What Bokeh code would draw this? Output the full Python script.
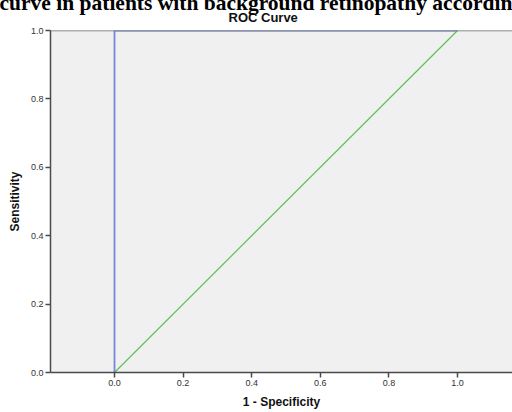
from bokeh.plotting import figure
from bokeh.models import FixedTicker, Span, Range1d, Title
from bokeh.embed import file_html
from bokeh.resources import INLINE

# Data
roc_x = [0.0, 0.0, 1.0]          # 1 - Specificity
roc_y = [0.0, 1.0, 1.0]          # Sensitivity
ref_x = [0.0, 1.0]               # reference line
ref_y = [0.0, 1.0]
tick_values = [0.0, 0.2, 0.4, 0.6, 0.8, 1.0]
tick_labels = ["0.0", "0.2", "0.4", "0.6", "0.8", "1.0"]

caption = "curve in patients with background retinopathy according"
chart_title = "ROC Curve"
x_label = "1 - Specificity"
y_label = "Sensitivity"

p = figure(width=512, height=412, output_backend="svg", toolbar_location=None,
           x_range=Range1d(-0.1866, 1.1603), y_range=Range1d(0.0, 1.0),
           min_border_left=50, min_border_top=30, min_border_bottom=40, min_border_right=0)
p.background_fill_color = "#f0f0f0"
p.border_fill_color = "white"
p.outline_line_color = None
p.grid.visible = False

for ax in (p.xaxis[0], p.yaxis[0]):
    ax.ticker = FixedTicker(ticks=tick_values)
    ax.major_label_overrides = {v: l for v, l in zip(tick_values, tick_labels)}
    ax.axis_line_color = "#4a4a4a"
    ax.axis_line_width = 1.5
    ax.major_tick_line_color = "#4a4a4a"
    ax.major_tick_line_width = 1.5
    ax.major_tick_out = 5
    ax.major_tick_in = 0
    ax.minor_tick_line_color = None
    ax.major_label_text_font = "Liberation Sans"
    ax.major_label_text_font_size = "9px"
    ax.major_label_text_color = "#333333"
    ax.major_label_standoff = 2
    ax.axis_label_text_font = "Liberation Sans"
    ax.axis_label_text_font_style = "bold"
    ax.axis_label_text_font_size = "12px"
    ax.axis_label_text_color = "#111111"
    ax.axis_label_standoff = 6

p.xaxis[0].axis_label = x_label
p.yaxis[0].axis_label = y_label

t = Title(text=chart_title, align="left", offset=178, standoff=11, vertical_align="bottom",
          text_font="Liberation Sans", text_font_style="bold", text_font_size="13px",
          text_color="#111111")
p.add_layout(t, "above")

cap = Title(text=caption, align="left", offset=-51, standoff=-24, vertical_align="bottom",
            text_font="Liberation Serif", text_font_style="bold", text_font_size="21.5px",
            text_color="black")
p.add_layout(cap, "above")

# top border
p.add_layout(Span(location=1.0, dimension="width", line_color="#6a6a6a", line_width=1.5))

p.line(ref_x, ref_y, line_color="#5cc05c", line_width=1.2)
p.line(roc_x, roc_y, line_color="#7488d6", line_width=1.8)

open("out.html", "w").write(file_html(p, INLINE))
